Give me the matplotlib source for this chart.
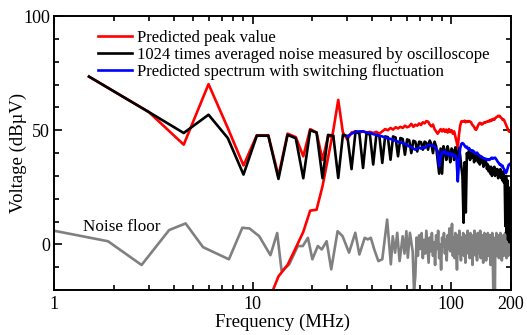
import numpy as np
import matplotlib
matplotlib.use("Agg")
import matplotlib.pyplot as plt
from matplotlib.ticker import FixedLocator, NullFormatter

plt.rcParams["font.family"] = ["Liberation Serif", "DejaVu Serif"]
plt.rcParams["mathtext.fontset"] = "stix"

# Harmonics of the 1.5 MHz switching frequency
F0 = 1.5
harm_freq = F0 * np.arange(1, 134)

# 1024-times averaged oscilloscope spectrum, one value per harmonic (n = 1..133)
measured = [
    73.5, 58.0, 48.8, 56.8, 46.6, 30.6, 47.6, 47.6, 28.7, 48.0,
    46.5, 29.0, 50.0, 49.0, 29.0, 48.0, 47.5, 29.1, 48.0, 47.5,
    33.0, 49.5, 48.5, 33.5, 48.8, 48.0, 35.0, 48.0, 47.5, 35.7,
    47.3, 47.0, 37.1, 47.3, 46.8, 38.6, 46.6, 46.2, 39.3, 46.0,
    45.6, 40.0, 45.4, 45.0, 40.7, 45.0, 44.8, 41.5, 45.0, 44.5,
    41.5, 45.5, 44.0, 40.0, 45.0, 43.0, 37.0, 31.0, 42.0, 31.0,
    43.0, 41.0, 37.0, 43.0, 40.0, 36.0, 42.0, 41.0, 37.0, 42.5,
    40.0, 35.0, 42.0, 39.0, 34.0, 30.0, 9.5, 36.0, 14.0, 40.0,
    38.0, 41.0, 37.0, 40.0, 38.0, 41.0, 36.0, 39.0, 37.0, 40.0,
    36.0, 38.0, 35.0, 38.5, 36.0, 38.0, 34.0, 37.0, 35.0, 36.0,
    33.0, 35.0, 32.0, 34.0, 31.0, 34.0, 30.0, 33.0, 31.0, 34.0,
    30.0, 33.0, 31.0, 33.0, 29.0, 32.0, 30.0, 33.0, 29.0, 31.0,
    28.0, 32.0, 27.0, 30.0, 8.0, 30.0, 5.0, 28.0, 2.0, 25.0,
    1.0, 20.0, 3.0,
]

# Predicted peak value: low-frequency peaks (n = 1..17)
peak_low = [
    73.5, 58.0, 43.7, 70.2, 51.0, 34.6, 47.8, 47.8, 30.0, 48.5,
    47.0, 38.6, 50.5, 49.0, 37.0, 47.3, 47.5,
]

# Predicted peak value: upper branch (n = 8..133)
peak_high = [
    -25.0, -14.0, -9.0, -1.5, 5.5, 14.8, 15.2, 25.5, 38.0, 50.0,
    63.3, 49.0, 46.0, 49.0, 49.5, 49.0, 49.5, 49.0, 49.3, 48.8,
    49.3, 48.5, 49.5, 50.5, 50.0, 51.0, 50.3, 51.3, 50.8, 51.5,
    51.0, 52.0, 51.3, 51.7, 52.8, 51.5, 52.4, 52.0, 53.0, 52.3,
    53.5, 53.0, 54.0, 53.8, 52.5, 51.7, 52.5, 50.5, 49.5, 48.5,
    49.5, 50.5, 49.5, 50.5, 49.3, 50.3, 49.0, 50.5, 49.2, 50.0,
    48.5, 49.5, 47.3, 45.0, 42.5, 48.0, 52.0, 53.8, 54.0, 53.8,
    54.2, 53.5, 54.0, 53.7, 54.0, 53.8, 53.5, 52.5, 52.0, 51.5,
    50.5, 50.2, 51.0, 52.0, 52.8, 53.2, 53.1, 52.5, 52.7, 53.2,
    53.5, 53.3, 53.6, 53.8, 54.0, 53.8, 54.3, 54.0, 54.6, 54.3,
    54.8, 55.0, 54.6, 55.2, 55.5, 55.8, 56.0, 56.3, 56.2, 56.3,
    55.8, 55.5, 55.2, 54.6, 54.8, 54.5, 53.8, 53.0, 52.4, 51.8,
    51.0, 50.3, 49.5, 49.5, 49.3, 49.5,
]

# Predicted spectrum with switching fluctuation (n = 20..133)
fluct = [
    47.3, 48.5, 49.3, 49.5, 49.5, 49.0, 48.8, 48.3, 48.0, 47.6,
    47.3, 46.8, 46.5, 46.2, 45.9, 45.4, 45.0, 44.8, 44.4, 44.0,
    43.5, 42.9, 42.6, 42.0, 41.5, 42.0, 42.3, 42.0, 42.6, 42.2,
    43.0, 43.5, 43.7, 43.2, 43.4, 42.8, 42.0, 41.0, 34.2, 38.0,
    40.7, 40.0, 40.8, 39.5, 40.2, 39.0, 40.0, 38.8, 39.6, 38.5,
    39.0, 37.0, 27.6, 36.0, 42.0, 44.0, 44.4, 44.0, 43.2, 42.5,
    42.8, 41.8, 42.2, 41.5, 41.0, 41.2, 40.5, 40.6, 40.0, 39.8,
    40.2, 39.5, 39.2, 38.8, 38.3, 38.4, 38.0, 37.8, 37.5, 37.6,
    37.2, 37.4, 37.0, 37.2, 37.0, 37.5, 37.8, 38.0, 37.5, 37.8,
    37.9, 38.0, 37.5, 37.0, 36.4, 36.0, 35.5, 35.0, 35.2, 34.6,
    34.2, 34.5, 33.5, 33.0, 32.5, 31.5, 31.3, 32.0, 33.0, 34.0,
    34.9, 35.0, 35.3, 35.5,
]

# Noise floor: sparse part read point by point, then 1 MHz steps from 63 MHz
noise_freq_low = [
    1.0, 1.87, 2.76, 3.8, 4.6, 5.63, 7.6, 8.88, 9.65, 10.8,
    12.3, 13.3, 14.0, 15.3, 16.9, 17.9, 19.0, 20.0, 21.3, 22.3,
    23.6, 24.9, 26.8, 28.4, 30.6, 32.9, 34.5, 36.7, 38.0, 39.4,
    41.0, 43.0, 45.0, 47.6, 49.7, 50.8, 52.2, 53.5, 55.0, 57.0,
    58.2, 59.5, 60.5, 62.0,
]
noise_low = [
    6.0, 1.4, -9.0, 6.3, 9.2, -1.2, -6.5, 7.3, 7.0, 3.6,
    -4.7, 5.0, -11.6, -8.7, -0.7, -0.7, 2.9, -6.5, -0.7, -2.2,
    1.4, -10.9, 5.8, 3.6, -3.6, 5.1, -4.4, 2.9, 2.2, 2.9,
    -2.2, -7.3, -6.5, 10.9, -8.7, 3.6, -3.6, 5.1, -7.3, 3.6,
    -4.0, 5.8, -5.8, 5.1,
]
noise_freq_high = np.arange(63, 201)
noise_high = [
    1, -3, -20, -14, 3, -5, 4, -2, 5, -6,
    2, -4, 6, -1, -8, 3, -3, 5, -5, 1,
    -9, 4, -2, 6, -6, 0, -11, 3, -1, 5,
    -4, 2, -7, 4, -2, 7, -3, 1, 9, -5,
    3, -6, 5, -2, -11, 4, -4, 6, -1, -7,
    3, -3, 5, -5, 2, -8, 4, -1, 6, -4,
    1, -6, 5, -2, 3, -9, 4, -3, 6, -1,
    -5, 2, -7, 5, -2, 3, -4, 6, -6, 1,
    -3, 4, -8, 2, 5, -4, 0, -7, 3, -2,
    5, -5, 1, -3, 4, -9, 2, -2, 5, -6,
    -20, 3, -4, -22, 2, -3, 5, -5, 1, -3,
    4, -6, 2, -2, 5, -4, 1, -7, 3, -1,
    4, -5, 2, -3, 5, -4, 0, -6, 3, -2,
    4, -5, 1, -3, 5, -2, 3, 0,
]

# join the two red branches with a gap
red_f = np.concatenate([harm_freq[:17], [np.nan], harm_freq[7:]])
red_v = np.concatenate([peak_low, [np.nan], peak_high])
noise_f = np.concatenate([noise_freq_low, noise_freq_high])
noise_v = np.concatenate([noise_low, noise_high])

fig = plt.figure(figsize=(5.27, 3.35), dpi=100)
ax = fig.add_axes([0.1025, 0.134, 0.867, 0.818])

lw = 1.9
ax.plot(noise_f, noise_v, color="#808080", lw=lw)
ax.plot(red_f, red_v, color="#ff0000", lw=lw, label="Predicted peak value")
ax.plot(harm_freq, measured, color="black", lw=lw,
        label="1024 times averaged noise measured by oscilloscope")
ax.plot(harm_freq[19:], fluct, color="#0000ff", lw=lw,
        label="Predicted spectrum with switching fluctuation")

ax.text(1.4, 7.5, "Noise floor", fontsize=12.3, va="center", ha="left")

ax.set_xscale("log")
ax.set_xlim(1, 200)
ax.set_ylim(-20, 100)
ax.xaxis.set_major_locator(FixedLocator([1, 10, 100, 200]))
ax.set_xticklabels(["1", "10", "100", "200"])
minor_x = [2, 3, 4, 5, 6, 7, 8, 9, 20, 30, 40, 50, 60, 70, 80, 90]
ax.xaxis.set_minor_locator(FixedLocator(minor_x))
ax.xaxis.set_minor_formatter(NullFormatter())
ax.set_yticks([0, 50, 100])
ax.yaxis.set_minor_locator(FixedLocator(np.arange(-20, 101, 10)))

ax.tick_params(which="both", direction="in", top=True, right=True,
               labelsize=13, width=1.2)
ax.tick_params(which="major", length=6, pad=4)
ax.tick_params(axis="y", which="major", pad=3)
ax.tick_params(which="minor", length=3.5)
for s in ax.spines.values():
    s.set_linewidth(1.4)

ax.set_xlabel("Frequency (MHz)", fontsize=13.5, labelpad=1)
ax.set_ylabel("Voltage (dB\u00b5V)", fontsize=13.5)
ax.yaxis.set_label_coords(-0.059, 0.5)

ax.legend(loc="upper left", bbox_to_anchor=(0.075, 0.985), frameon=False,
          fontsize=12, handlelength=2.0, handletextpad=0.35,
          labelspacing=0.04, borderaxespad=0.2)

fig.savefig("out.png", dpi=100)
